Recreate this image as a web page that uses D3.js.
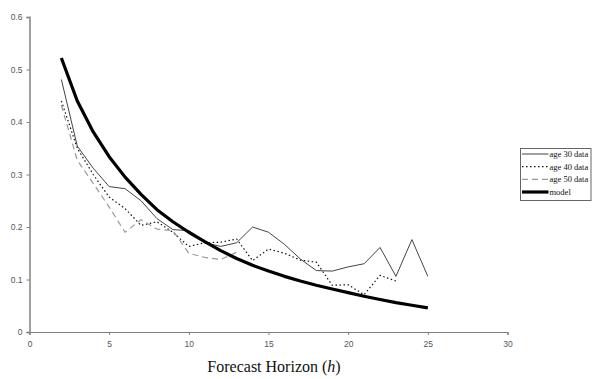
<!DOCTYPE html>
<html><head><meta charset="utf-8">
<script src="https://cdn.jsdelivr.net/npm/d3@7"></script>
<style>body{margin:0;background:#fff}</style>
</head><body><svg id="c" width="600" height="379"></svg>
<script>
const horizons30 = [2,3,4,5,6,7,8,9,10,11,12,13,14,15,16,17,18,19,20,21,22,23,24,25];
const age30 = [0.481,0.354,0.312,0.277,0.273,0.25,0.216,0.195,0.193,0.17,0.163,0.17,0.2,0.19,0.167,0.139,0.117,0.116,0.124,0.13,0.161,0.106,0.176,0.106];
const horizons40 = [2,3,4,5,6,7,8,9,10,11,12,13,14,15,16,17,18,19,20,21,22,23];
const age40 = [0.44,0.35,0.3,0.257,0.235,0.203,0.21,0.19,0.163,0.17,0.171,0.177,0.136,0.158,0.15,0.137,0.133,0.089,0.09,0.071,0.108,0.097];
const horizons50 = [2,3,4,5,6,7,8,9,10,11,12,13];
const age50 = [0.432,0.327,0.283,0.238,0.19,0.214,0.196,0.193,0.15,0.142,0.138,0.152];
const horizonsModel = [2,3,4,5,6,7,8,9,10,11,12,13,14,15,16,17,18,19,20,21,22,23,24,25];
const model = [0.522,0.44,0.381,0.334,0.295,0.262,0.233,0.21,0.19,0.172,0.155,0.14,0.127,0.116,0.106,0.097,0.089,0.082,0.075,0.068,0.062,0.056,0.051,0.046];
const xTicks = [0,5,10,15,20,25,30];
const yTicks = [0,0.1,0.2,0.3,0.4,0.5,0.6];
const legendLabels = ["age 30 data","age 40 data","age 50 data","model"];

const svg = d3.select("#c");
const x = d3.scaleLinear().domain([0,30]).range([29.5,507.5]);
const y = d3.scaleLinear().domain([0,0.6]).range([332,17]);

// y axis
const ya = svg.append("g").attr("transform","translate(29.5,0)")
  .call(d3.axisLeft(y).tickValues(yTicks).tickSize(3).tickPadding(4)
    .tickFormat(d => d===0 ? "0" : d3.format(".1f")(d)));
ya.select(".domain").attr("stroke","#a0a0a0").attr("stroke-width",2);
ya.selectAll(".tick line").attr("stroke","#808080");
ya.selectAll("text").attr("font-family","Liberation Sans, Arial, sans-serif").attr("font-size","8.5px").attr("fill","#555");

// x axis
const xa = svg.append("g").attr("transform","translate(0,332)")
  .call(d3.axisBottom(x).tickValues(xTicks).tickSize(3).tickPadding(6));
xa.select(".domain").attr("stroke","#808080").attr("stroke-width",1.2);
xa.selectAll(".tick line").attr("stroke","#808080");
xa.selectAll("text").attr("font-family","Liberation Sans, Arial, sans-serif").attr("font-size","8.5px").attr("fill","#555");

// title
const t = svg.append("text").attr("x",274).attr("y",372).attr("text-anchor","middle")
  .attr("font-family","Liberation Serif, Times New Roman, serif").attr("font-size","16px").attr("fill","#111");
t.append("tspan").text("Forecast Horizon (");
t.append("tspan").attr("font-style","italic").text("h");
t.append("tspan").text(")");

const line = d3.line().x(d=>x(d[0])).y(d=>y(d[1]));
const series = [
  {h:horizons30, v:age30, stroke:"#444", w:1, dash:null},
  {h:horizons40, v:age40, stroke:"#111", w:1.2, dash:"1.5,2.5"},
  {h:horizons50, v:age50, stroke:"#999", w:1.2, dash:"6,4"},
  {h:horizonsModel, v:model, stroke:"#000", w:3.2, dash:null}
];
series.forEach(s=>{
  svg.append("path").datum(s.h.map((h,i)=>[h,s.v[i]]))
    .attr("d",line).attr("fill","none").attr("stroke",s.stroke)
    .attr("stroke-width",s.w).attr("stroke-dasharray",s.dash)
    .attr("stroke-linejoin","round");
});

// legend
const lg = svg.append("g");
lg.append("rect").attr("x",520.5).attr("y",148.5).attr("width",70.5).attr("height",52)
  .attr("fill","#fff").attr("stroke","#666").attr("stroke-width",1);
const rowY = d3.scalePoint().domain(legendLabels).range([154,192]);
legendLabels.forEach((lab,i)=>{
  const s = series[i];
  lg.append("line").attr("x1",522).attr("x2",548.5).attr("y1",rowY(lab)).attr("y2",rowY(lab))
    .attr("stroke",s.stroke).attr("stroke-width",s.w).attr("stroke-dasharray",s.dash);
  lg.append("text").attr("x",549.5).attr("y",rowY(lab)+3)
    .attr("font-family","Liberation Serif, Times New Roman, serif").attr("font-size","8.5px").attr("fill","#111")
    .text(lab);
});
</script></body></html>
